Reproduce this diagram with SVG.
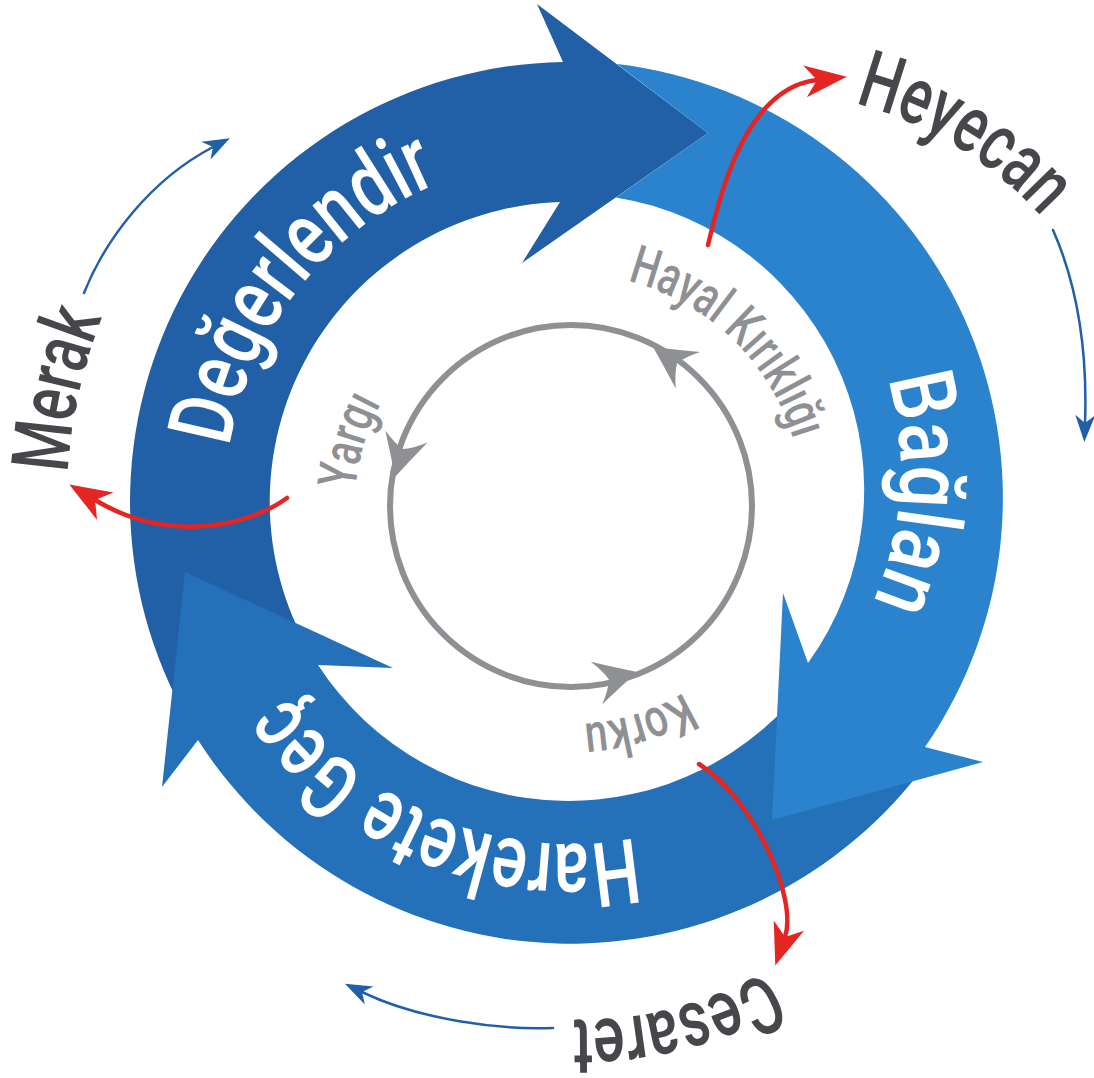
<svg xmlns="http://www.w3.org/2000/svg" width="1094" height="1078" viewBox="0 0 1094 1078">
<style>
.band{font-family:Roboto,"Liberation Sans",sans-serif;font-size:90px;font-weight:500;fill:#ffffff}
.inner{font-family:Roboto,"Liberation Sans",sans-serif;font-size:54px;font-weight:500;fill:#8E9094}
.outer{font-family:Roboto,"Liberation Sans",sans-serif;font-size:80px;font-weight:500;fill:#46474B}
.red{fill:none;stroke:#E42522;stroke-width:4.5;stroke-linecap:round}
.blue{fill:none;stroke:#2160A6;stroke-width:2.5;stroke-linecap:round}
</style>
<defs>
<marker id="mRed" viewBox="-45 -20 50 40" markerWidth="50" markerHeight="40" refX="-30" refY="0" orient="auto" markerUnits="userSpaceOnUse"><path d="M0,0 L-42,-16 L-30,0 L-42,16 Z" fill="#E42522"/></marker>
<marker id="mBlue" viewBox="-30 -12 34 24" markerWidth="34" markerHeight="24" refX="-19" refY="0" orient="auto" markerUnits="userSpaceOnUse"><path d="M0,0 L-27,-10 L-19,0 L-27,10 Z" fill="#2160A6"/></marker>
<path id="gh" d="M0,0 Q-18,-9 -42,-22 Q-32,-9 -29,0 Q-32,9 -42,22 Q-18,9 0,0 Z" fill="#8E9094"/>
<path id="tpD" d="M232.0,571.4 A345,345 0 0 1 560.4,157.1" fill="none"/>
<path id="tpB" d="M854.0,301.4 A328,328 0 0 1 828.9,674.5" fill="none"/>
<path id="tpH" d="M729.2,804.7 A342,342 0 0 1 244.3,606.3" fill="none"/>
<path id="tpY" d="M366.3,574.9 A216,216 0 0 1 436.2,337.2" fill="none"/>
<path id="tpK1" d="M606.1,276.7 A232,232 0 0 1 798.5,460.5" fill="none"/>
<path id="tpK2" d="M743.4,639.5 A218,218 0 0 1 504.5,713.6" fill="none"/>
<path id="tpM" d="M105.6,695.3 A503,503 0 0 1 229.5,131.7" fill="none"/>
<path id="tpHe" d="M767.6,91.1 A380,380 0 0 1 1092.3,288.5" fill="none"/>
<path id="tpC" d="M867.2,888.8 A380,380 0 0 1 444.5,995" fill="none"/>
</defs>
<rect width="1094" height="1078" fill="#ffffff"/>

<g id="degerlendir">
<path d="M310,652 L189,722 A440,440 0 0 1 563,62 L537,4 L708,133 L522,263 L560,202 A300,300 0 0 0 310,652 Z" fill="#2160A6"/>
<text class="band"><textPath href="#tpD" startOffset="50%" text-anchor="middle" textLength="352" lengthAdjust="spacingAndGlyphs">Değerlendir</textPath></text>
</g>

<g id="harekete-gec">
<path d="M811,677 L927.6,761.8 A442,442 0 0 1 198,740 L162,787 L185,572 L393,668 L318,665 A299,299 0 0 0 811,677 Z" fill="#2470B9"/>
<text class="band"><textPath href="#tpH" startOffset="50%" text-anchor="middle" textLength="397" lengthAdjust="spacingAndGlyphs">Harekete Geç</textPath></text>
</g>

<g id="baglan">
<path d="M617,64 A437,437 0 0 1 925,747 L983,762 L772,820 L783,593 L808,663 A296,296 0 0 0 616,197.4 L708,133 Z" fill="#2A83CC"/>
<text class="band"><textPath href="#tpB" startOffset="50%" text-anchor="middle" textLength="229" lengthAdjust="spacingAndGlyphs">Bağlan</textPath></text>
</g>

<g id="yargi">
<text class="inner"><textPath href="#tpY" startOffset="50%" text-anchor="middle" textLength="90" lengthAdjust="spacingAndGlyphs">Yargı</textPath></text>
</g>
<g id="hayal-kirikligi">
<text class="inner"><textPath href="#tpK1" startOffset="50%" text-anchor="middle" textLength="240" lengthAdjust="spacingAndGlyphs">Hayal Kırıklığı</textPath></text>
</g>
<g id="korku">
<text class="inner"><textPath href="#tpK2" startOffset="50%" text-anchor="middle" textLength="106" lengthAdjust="spacingAndGlyphs">Korku</textPath></text>
</g>

<g id="merak">
<text class="outer"><textPath href="#tpM" startOffset="50%" text-anchor="middle" textLength="160" lengthAdjust="spacingAndGlyphs">Merak</textPath></text>
</g>
<g id="heyecan">
<text class="outer"><textPath href="#tpHe" startOffset="50%" text-anchor="middle" textLength="222" lengthAdjust="spacingAndGlyphs">Heyecan</textPath></text>
</g>
<g id="cesaret">
<text class="outer"><textPath href="#tpC" startOffset="50%" text-anchor="middle" textLength="202" lengthAdjust="spacingAndGlyphs">Cesaret</textPath></text>
</g>

<g id="connectors">
<circle cx="571" cy="506" r="181" fill="none" stroke="#8E9094" stroke-width="6"/>
<use href="#gh" transform="translate(653,347) rotate(-146.3)"/>
<use href="#gh" transform="translate(395,477) rotate(105.8)"/>
<use href="#gh" transform="translate(637,672) rotate(-15.3)"/>
<path class="red" d="M708,245 C720,195 745,88 817,80" marker-end="url(#mRed)"/>
<path class="red" d="M287,498 C250,525 170,545 95,500" marker-end="url(#mRed)"/>
<path class="red" d="M699,764 C755,800 798,899 785,937" marker-end="url(#mRed)"/>
<path class="blue" d="M84,293 C105,240 150,180 213,147" marker-end="url(#mBlue)"/>
<path class="blue" d="M1053,230 C1075,280 1088,340 1085,423" marker-end="url(#mBlue)"/>
<path class="blue" d="M553,1028 C500,1030 420,1020 362,992" marker-end="url(#mBlue)"/>
</g>
</svg>
